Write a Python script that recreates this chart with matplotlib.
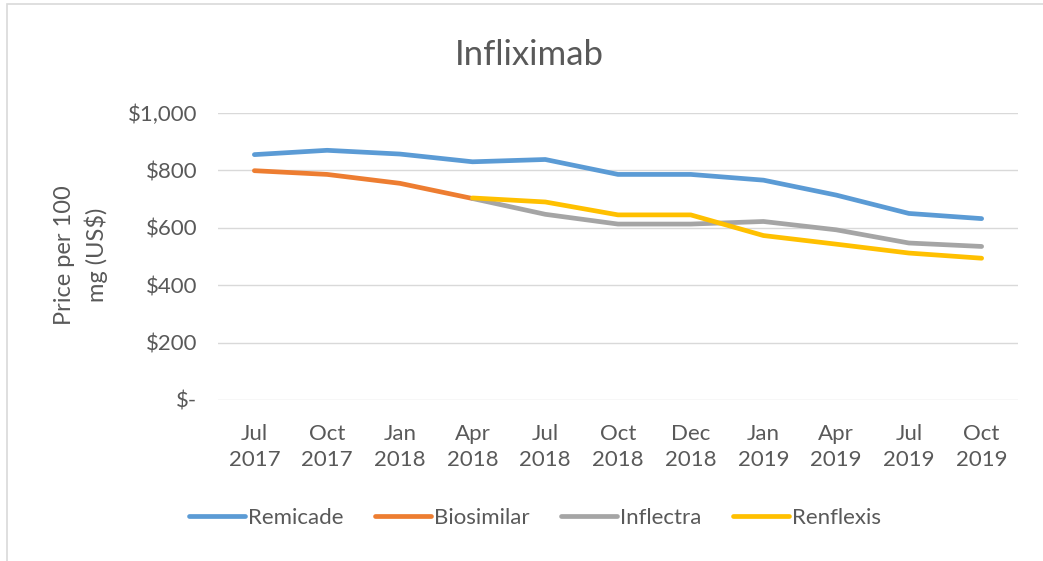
import matplotlib
matplotlib.use("Agg")
import matplotlib.pyplot as plt
from matplotlib.lines import Line2D
from matplotlib.patches import Rectangle
import numpy as np

categories = ["Jul\n2017", "Oct\n2017", "Jan\n2018", "Apr\n2018", "Jul\n2018", "Oct\n2018",
              "Dec\n2018", "Jan\n2019", "Apr\n2019", "Jul\n2019", "Oct\n2019"]
remicade = [855, 870, 857, 830, 838, 786, 786, 766, 714, 650, 632]
biosimilar = [799, 786, 755, 702, None, None, None, None, None, None, None]
inflectra = [None, None, None, 702, 647, 613, 613, 622, 593, 547, 535]
renflexis = [None, None, None, 704, 690, 645, 645, 573, 543, 512, 494]
yticks = [0, 200, 400, 600, 800, 1000]
ytick_labels = ["$-", "$200", "$400", "$600", "$800", "$1,000"]

plt.rcParams['font.family'] = ['Lato', 'DejaVu Sans']
txt = '#595959'

fig = plt.figure(figsize=(10.43, 5.61), dpi=100)
W, H = 1043, 561
left, right, top, bottom = 218, 1018, 113, 400
ax = fig.add_axes([left / W, 1 - bottom / H, (right - left) / W, (bottom - top) / H])

x = np.arange(len(categories))
series = [("Remicade", remicade, "#5B9BD5"), ("Biosimilar", biosimilar, "#ED7D31"),
          ("Inflectra", inflectra, "#A5A5A5"), ("Renflexis", renflexis, "#FFC000")]
for name, vals, c in series:
    v = np.array([np.nan if a is None else a for a in vals], dtype=float)
    ax.plot(x, v, color=c, lw=3.4, solid_capstyle='round', solid_joinstyle='round', label=name)

ax.set_xlim(-0.5, len(categories) - 0.5)
ax.set_ylim(0, 1000)
ax.set_yticks(yticks)
ax.set_yticklabels(ytick_labels)
ax.set_xticks(x)
ax.set_xticklabels(categories, linespacing=1.4)
ax.grid(axis='y', color='#D9D9D9', lw=1)
ax.set_axisbelow(True)
for s in ax.spines.values():
    s.set_visible(False)
ax.tick_params(axis='both', length=0, labelsize=16, colors=txt)
ax.tick_params(axis='y', pad=15)
ax.tick_params(axis='x', pad=17)

fig.text(529 / W, 1 - 55 / H, "Infliximab", ha='center', va='center', fontsize=25, color=txt)
fig.text(81 / W, 1 - 255 / H, "Price per 100\nmg (US$)", ha='center', va='center',
         rotation=90, fontsize=17, color=txt, linespacing=1.5)

handles = [Line2D([], [], color=c, lw=3.4, solid_capstyle='round') for _, _, c in series]
fig.legend(handles, [s[0] for s in series], loc='center', bbox_to_anchor=(535 / W, 1 - 518 / H),
           ncol=4, frameon=False, fontsize=16, labelcolor=txt, handlelength=2.5,
           handletextpad=0.12, columnspacing=1.45)

fig.add_artist(Rectangle((7 / W, -0.1), 1.0, 1.1 - 4 / H, transform=fig.transFigure,
                         fill=False, edgecolor='#D9D9D9', lw=1.2))
fig.savefig("out.png", dpi=100)
